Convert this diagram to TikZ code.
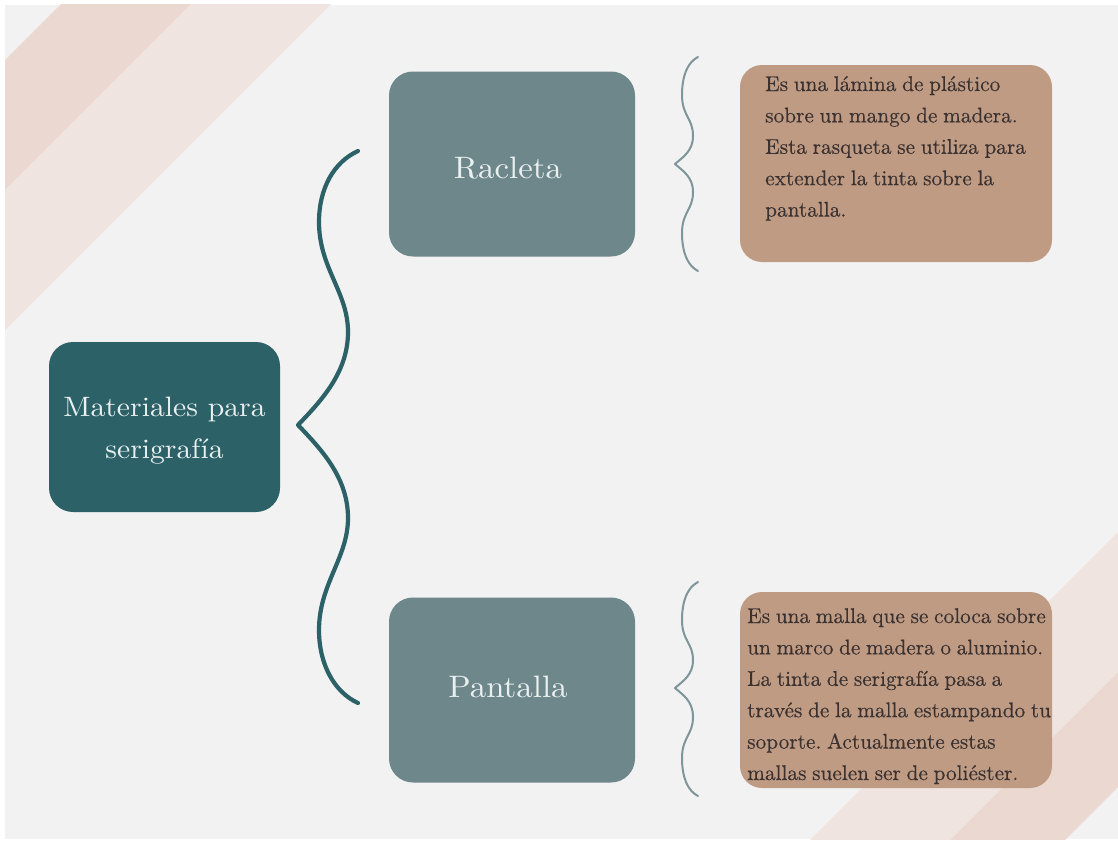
\documentclass[tikz,border=0pt]{standalone}
\usepackage{fontspec}
\newfontfamily\dispf{lmroman10-regular}[Extension=.otf, FakeStretch=1.06]
\newfontfamily\descf{lmroman10-regular}[Extension=.otf, WordSpace=0.8, FakeBold=0.3]
\definecolor{panel}{HTML}{F2F2F2}
\definecolor{stripeDark}{HTML}{EBD8D1}
\definecolor{stripeLight}{HTML}{EFE4E0}
\definecolor{mainTeal}{HTML}{2B6167}
\definecolor{subBox}{HTML}{6E878B}
\definecolor{smallBrace}{HTML}{7E969A}
\definecolor{descBox}{HTML}{BF9B83}
\definecolor{descText}{HTML}{3A3131}
\definecolor{lightText}{HTML}{EAF0F0}
\tikzset{
  mainbox/.style={fill=mainTeal, rounded corners=24pt, minimum width=231pt, minimum height=170pt, inner sep=0pt},
  subbox/.style={fill=subBox, rounded corners=24pt, minimum width=246pt, minimum height=185pt, inner sep=0pt},
  descbox/.style={fill=descBox, rounded corners=22pt, minimum width=312pt, minimum height=197pt, inner sep=0pt},
  bigbrace/.style={draw=mainTeal, line width=4.2pt, line cap=round, line join=round},
  thinbrace/.style={draw=smallBrace, line width=2pt, line cap=round, line join=round},
  label/.style={inner sep=0pt, anchor=base, text=lightText},
  desc/.style={inner sep=0pt, anchor=base west, text=descText},
}
\newcommand{\dispfont}[2]{\dispf\fontsize{#1}{#2}\selectfont}
\newcommand{\descfont}{\descf\fontsize{21.3}{31.4}\selectfont\frenchspacing}
\begin{document}
\begin{tikzpicture}[x=1pt,y=-1pt]
\useasboundingbox (0,0) rectangle (1118,843);
\fill[white] (0,0) rectangle (1118,843);
\fill[panel] (5,5) rectangle (1118,839);
\begin{scope}
\clip (5,5) rectangle (1118,839);
\fill[stripeDark] (65,0) -- (195,0) -- (0,195) -- (0,65) -- cycle;
\fill[stripeLight] (195,0) -- (335,0) -- (0,335) -- (0,195) -- cycle;
\fill[stripeLight] (1118,532) -- (1118,672) -- (947,843) -- (807,843) -- cycle;
\fill[stripeDark] (1118,672) -- (1118,787) -- (1062,843) -- (947,843) -- cycle;
\end{scope}

% boxes
\node[mainbox] (main) at (164.5,427) {};
\node[subbox] (racleta) at (512,164) {};
\node[subbox] (pantalla) at (512,690) {};
\node[descbox] (d1box) at (896,163.5) {};
\node[descbox, minimum height=196pt] (d2box) at (896,690) {};

% labels
\node[label] (mainlbl) at (164.5,416) {\parbox[t]{230pt}{\centering\dispfont{28}{42}Materiales para\\serigrafía}};
\node[label] (raclbl) at (508,178) {\dispfont{31}{36}Racleta};
\node[label] (panlbl) at (508,697) {\dispfont{31}{36}Pantalla};

\node[desc] (d1) at (765,91) {\parbox[t]{320pt}{\raggedright\descfont Es una lámina de plástico\\sobre un mango de madera.\\Esta rasqueta se utiliza para\\extender la tinta sobre la\\pantalla.}};
\node[desc] (d2) at (747,623) {\parbox[t]{320pt}{\raggedright\descfont Es una malla que se coloca sobre\\un marco de madera o aluminio.\\La tinta de serigrafía pasa a\\través de la malla estampando tu\\soporte. Actualmente estas\\mallas suelen ser de poliéster.}};

% big brace
\coordinate (bt) at (358,151);
\coordinate (btip) at (298,425);
\coordinate (bb) at (358,703);
\draw[bigbrace] (bt) .. controls (334,162) and (319,188) .. (319,222)
  .. controls (319,268) and (348,292) .. (348,332)
  .. controls (348,372) and (322,400) .. (btip)
  .. controls (322,450) and (348,478) .. (348,518)
  .. controls (348,558) and (319,584) .. (319,630)
  .. controls (319,664) and (334,692) .. (bb);

% small braces
\coordinate (s1t) at (698,57);
\coordinate (s1tip) at (675,164);
\coordinate (s1b) at (698,271);
\draw[thinbrace] (s1t) .. controls (688,62) and (682,75) .. (682,95)
  .. controls (682,116) and (693,118) .. (693,136)
  .. controls (693,151) and (683,157) .. (s1tip)
  .. controls (683,171) and (693,177) .. (693,192)
  .. controls (693,210) and (682,212) .. (682,233)
  .. controls (682,253) and (688,266) .. (s1b);

\coordinate (s2t) at (698,582);
\coordinate (s2tip) at (675,688);
\coordinate (s2b) at (698,796);
\draw[thinbrace] (s2t) .. controls (688,587) and (682,600) .. (682,620)
  .. controls (682,641) and (693,643) .. (693,660)
  .. controls (693,675) and (683,681) .. (s2tip)
  .. controls (683,695) and (693,701) .. (693,717)
  .. controls (693,735) and (682,737) .. (682,758)
  .. controls (682,778) and (688,791) .. (s2b);
\end{tikzpicture}
\end{document}
